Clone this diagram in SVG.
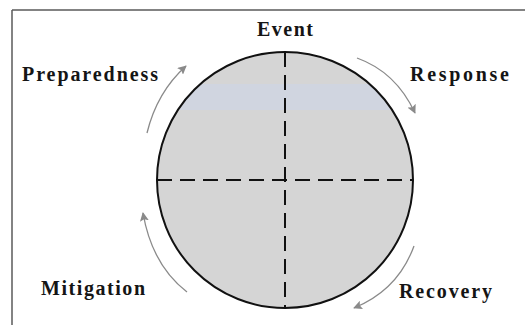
<svg xmlns="http://www.w3.org/2000/svg" width="525" height="325" viewBox="0 0 525 325">
<style>
.lbl{font-family:"Liberation Serif","Times New Roman",serif;font-weight:bold;font-size:20px;fill:#151515}
.arr{fill:none;stroke:#8a8a8a;stroke-width:1.3;marker-end:url(#ah)}
.dash{stroke:#111;stroke-width:2;stroke-dasharray:15 8;fill:none}
</style>
<defs>
<marker id="ah" viewBox="0 0 10 10" refX="9" refY="5" markerWidth="9" markerHeight="9" markerUnits="userSpaceOnUse" orient="auto">
<path d="M0,0 L10,5 L0,10 L2,5 Z" fill="#8a8a8a"/>
</marker>
<clipPath id="cc"><circle cx="285" cy="180" r="128"/></clipPath>
</defs>
<rect width="525" height="325" fill="#ffffff"/>
<g id="frame" stroke="#5a5a5a" stroke-width="1.5" fill="none">
<path d="M12,10 H525"/>
<path d="M12,10 V325"/>
</g>
<g id="cycle">
<circle cx="285" cy="180" r="128" fill="#d5d5d5"/>
<rect x="150" y="84" width="240" height="26" fill="#d0d5e0" clip-path="url(#cc)"/>
<path class="dash" d="M285,52 V308"/>
<path class="dash" d="M157,180 H413"/>
<circle cx="285" cy="180" r="128" fill="none" stroke="#111" stroke-width="2"/>
</g>
<g id="connectors">
<path class="arr" d="M147,133 Q157,92 186,66"/>
<path class="arr" d="M357,58 Q396,72 415,113"/>
<path class="arr" d="M414,246 Q398,290 354,308"/>
<path class="arr" d="M187,292 Q152,265 143,213"/>
</g>
<g id="event"><text class="lbl" x="257" y="36" textLength="56" lengthAdjust="spacing">Event</text></g>
<g id="preparedness"><text class="lbl" x="22" y="81" textLength="136" lengthAdjust="spacing">Preparedness</text></g>
<g id="response"><text class="lbl" x="410" y="81" textLength="99" lengthAdjust="spacing">Response</text></g>
<g id="mitigation"><text class="lbl" x="41" y="295" textLength="104" lengthAdjust="spacing">Mitigation</text></g>
<g id="recovery"><text class="lbl" x="399" y="298" textLength="93" lengthAdjust="spacing">Recovery</text></g>
</svg>
